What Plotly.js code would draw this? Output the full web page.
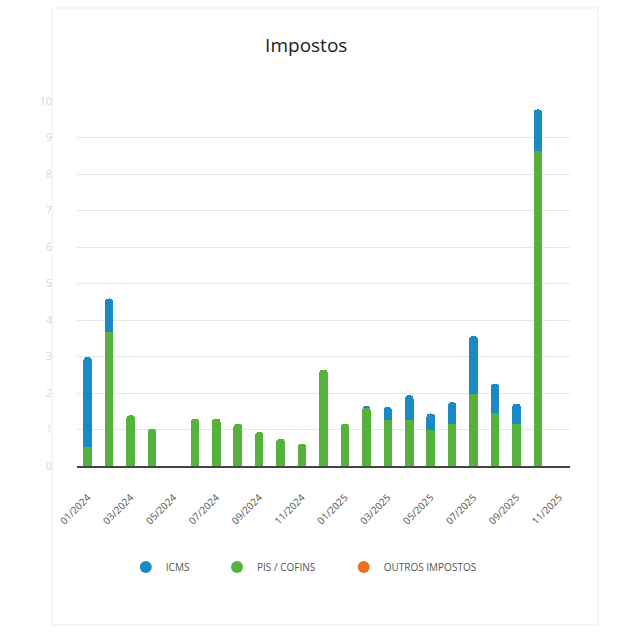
<!DOCTYPE html>
<html>
<head>
<meta charset="utf-8">
<script src="https://cdn.plot.ly/plotly-3.0.1.min.js"></script>
<style>
  html, body { margin: 0; padding: 0; background: #fff; }
  #myDiv { width: 625px; height: 636px; }
</style>
</head>
<body>
<div id="myDiv"></div>
<script>
var months = ['01/2024', '02/2024', '03/2024', '04/2024', '05/2024', '06/2024', '07/2024', '08/2024',
  '09/2024', '10/2024', '11/2024', '12/2024', '01/2025', '02/2025', '03/2025', '04/2025',
  '05/2025', '06/2025', '07/2025', '08/2025', '09/2025', '10/2025', '11/2025'];

var outros = [0, 0, 0, 0, 0, 0.03, 0.03, 0, 0.03, 0.03, 0.03, 0, 0, 0, 0, 0,
  0.03, 0, 0, 0.03, 0, 0, 0];
var pisCofins = [0.52, 3.67, 1.39, 1.02, 0, 1.27, 1.27, 1.16, 0.90, 0.72, 0.58, 2.64, 1.16, 1.59, 1.27, 1.27,
  0.95, 1.16, 1.97, 1.41, 1.16, 8.63, 0];
var icms = [2.47, 0.92, 0, 0, 0, 0, 0, 0, 0, 0, 0, 0, 0, 0.03, 0.35, 0.67,
  0.46, 0.59, 1.59, 0.82, 0.55, 1.14, 0];

var tickLabels = ['01/2024', '03/2024', '05/2024', '07/2024', '09/2024', '11/2024',
  '01/2025', '03/2025', '05/2025', '07/2025', '09/2025', '11/2025'];

var blue = '#1a8ac7';
var green = '#55b23a';
var orange = '#f07020';

var trOutros = {
  x: months,
  y: outros,
  name: 'OUTROS IMPOSTOS',
  type: 'bar',
  width: 0.4,
  marker: {color: orange, cornerradius: 5},
  showlegend: false
};
var trPis = {
  x: months,
  y: pisCofins,
  name: 'PIS / COFINS',
  type: 'bar',
  width: 0.4,
  marker: {color: green},
  showlegend: false
};
var trIcms = {
  x: months,
  y: icms,
  name: 'ICMS',
  type: 'bar',
  width: 0.4,
  marker: {color: blue},
  showlegend: false
};

// legend entries with round markers
function legendDot(name, color, legendId) {
  return {
    x: [null],
    y: [null],
    name: name,
    type: 'scatter',
    mode: 'markers',
    marker: {color: color, size: 12, symbol: 'circle'},
    legend: legendId,
    hoverinfo: 'skip'
  };
}

var data = [trOutros, trPis, trIcms,
  legendDot('ICMS', blue, 'legend'),
  legendDot('PIS / COFINS', green, 'legend2'),
  legendDot('OUTROS IMPOSTOS', orange, 'legend3')];

var legFont = {family: 'Open Sans, sans-serif', size: 10, color: '#555'};
function legendAt(x) {
  return {
    x: x,
    y: -0.277,
    xanchor: 'left',
    yanchor: 'middle',
    orientation: 'h',
    font: legFont,
    bgcolor: 'rgba(0,0,0,0)'
  };
}

var layout = {
  width: 625,
  height: 636,
  paper_bgcolor: '#fff',
  plot_bgcolor: '#fff',
  margin: {l: 77, r: 55, t: 101, b: 170},
  barmode: 'stack',
  font: {family: 'Open Sans, sans-serif', color: '#555'},
  title: {
    text: 'Impostos',
    font: {family: 'Open Sans, sans-serif', size: 19, color: '#222'},
    x: 0.49,
    xanchor: 'center',
    y: 0.928,
    yanchor: 'middle'
  },
  xaxis: {
    type: 'category',
    tickvals: tickLabels,
    ticktext: tickLabels,
    tickangle: -45,
    tickfont: {size: 10, color: '#555'},
    ticklabelstandoff: 20,
    showgrid: false,
    showline: true,
    linecolor: '#444',
    linewidth: 1.5,
    ticks: '',
    range: [-0.5, months.length - 0.5]
  },
  yaxis: {
    range: [0, 10],
    dtick: 1,
    showgrid: true,
    gridcolor: '#e6e6e6',
    gridwidth: 1,
    zeroline: false,
    tickfont: {size: 11, color: '#d8d8d8'},
    ticklabelstandoff: 24
  },
  legend: legendAt(0.099),
  legend2: legendAt(0.284),
  legend3: legendAt(0.541),
  shapes: [{
    type: 'rect',
    xref: 'paper',
    yref: 'paper',
    x0: -0.0507,
    x1: 1.0568,
    y0: -0.4356,
    y1: 1.2548,
    line: {color: '#ececec', width: 1},
    layer: 'below'
  }]
};

Plotly.newPlot('myDiv', data, layout, {displayModeBar: false});
</script>
</body>
</html>
